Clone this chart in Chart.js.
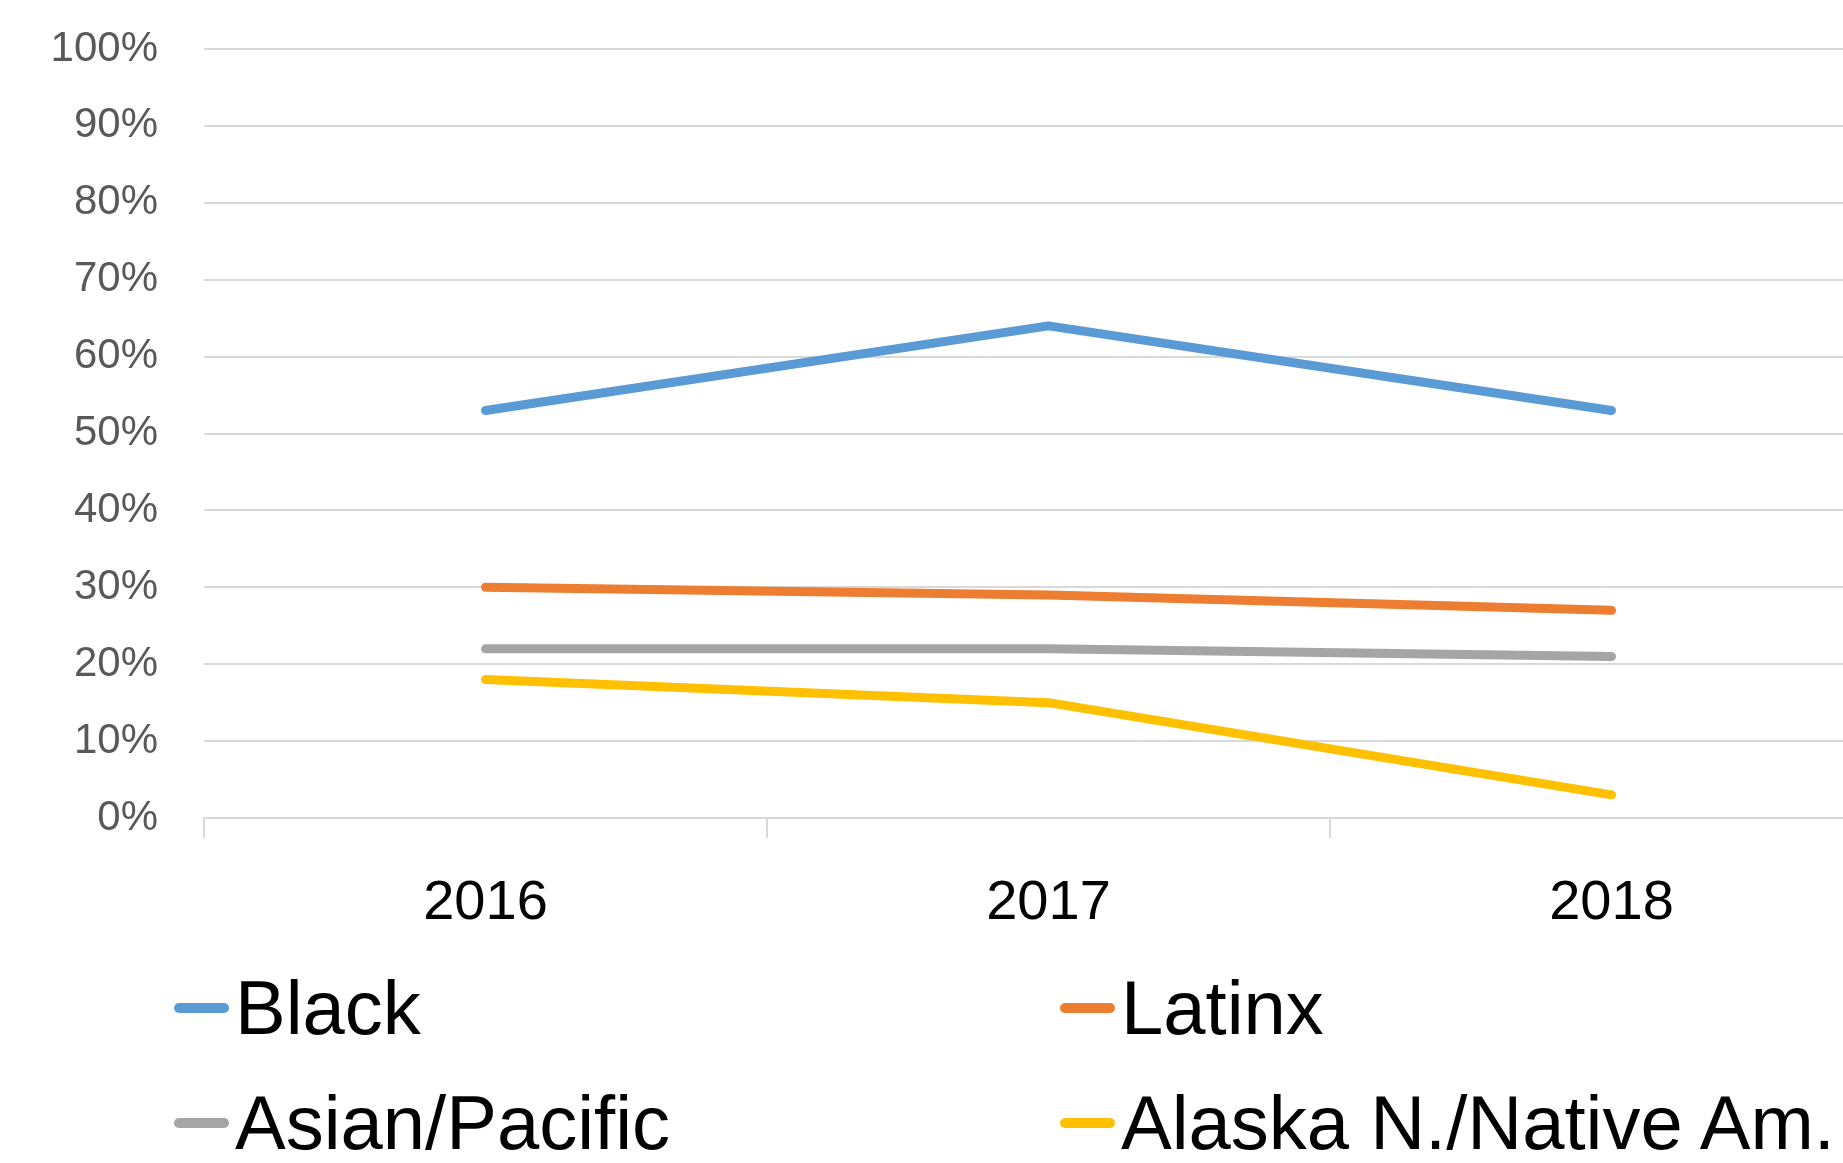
<!DOCTYPE html>
<html>
<head>
<meta charset="utf-8">
<script src="https://cdn.jsdelivr.net/npm/chart.js@4"></script>
<style>
  html, body { margin: 0; padding: 0; background: #fff; overflow: hidden; width: 1843px; height: 1163px; }
  #wrap { position: absolute; left: 0; top: 0; width: 1900px; height: 940px; }
  #legend {
    position: absolute; left: 174px; top: 950px;
    display: grid; grid-template-columns: 886px 900px; grid-auto-rows: 115px;
    font-family: "Liberation Sans", Arial, sans-serif; font-size: 76px; color: #000;
    white-space: nowrap;
  }
  .item { display: flex; align-items: center; line-height: 1; }
  .swatch { width: 55px; height: 10px; border-radius: 5px; margin-right: 6px; flex: none; }
</style>
</head>
<body>
<div id="wrap"><canvas id="chart"></canvas></div>
<div id="legend"></div>
<script>
const years = ["2016", "2017", "2018"];
const black = [53, 64, 53];
const latinx = [30, 29, 27];
const asianPacific = [22, 22, 21];
const alaskaNative = [18, 15, 3];

const seriesNames = ["Black", "Latinx", "Asian/Pacific", "Alaska N./Native Am."];
const seriesColors = ["#5B9BD5", "#ED7D31", "#A5A5A5", "#FFC000"];
const seriesValues = [black, latinx, asianPacific, alaskaNative];

const datasets = seriesNames.map((name, i) => ({
  label: name,
  data: seriesValues[i],
  borderColor: seriesColors[i],
  backgroundColor: seriesColors[i],
  borderWidth: 9,
  borderCapStyle: "round",
  borderJoinStyle: "round",
  pointRadius: 0,
  tension: 0,
  order: i
}));

new Chart(document.getElementById("chart"), {
  type: "line",
  data: { labels: years, datasets },
  options: {
    responsive: true,
    maintainAspectRatio: false,
    animation: false,
    layout: { autoPadding: false, padding: { top: 49, right: 7, bottom: 0, left: 0 } },
    plugins: { legend: { display: false }, tooltip: { enabled: false } },
    scales: {
      x: {
        offset: true,
        grid: { offset: true, drawOnChartArea: false, drawTicks: true, tickLength: 20, color: "#D9D9D9", lineWidth: 2 },
        border: { display: true, color: "#D9D9D9", width: 2 },
        ticks: { color: "#000", padding: 32, font: { family: "Liberation Sans", size: 56 } },
        afterFit: s => { s.height = 940 - 818; }
      },
      y: {
        min: 0, max: 100,
        grid: { color: "#D9D9D9", lineWidth: 2, drawTicks: false },
        border: { display: false },
        ticks: {
          stepSize: 10, padding: 46, color: "#595959",
          font: { family: "Liberation Sans", size: 42 },
          callback: v => v + "%"
        },
        // fixed width, and no extra top space from the tick padding
        afterFit: s => { s.width = 204; s.paddingTop = 0; s.paddingBottom = 0; }
      }
    }
  }
});

// HTML legend in two columns
const legend = document.getElementById("legend");
seriesNames.forEach((name, i) => {
  const item = document.createElement("div");
  item.className = "item";
  item.innerHTML = `<span class="swatch" style="background:${seriesColors[i]}"></span><span>${name}</span>`;
  legend.appendChild(item);
});
</script>
</body>
</html>
